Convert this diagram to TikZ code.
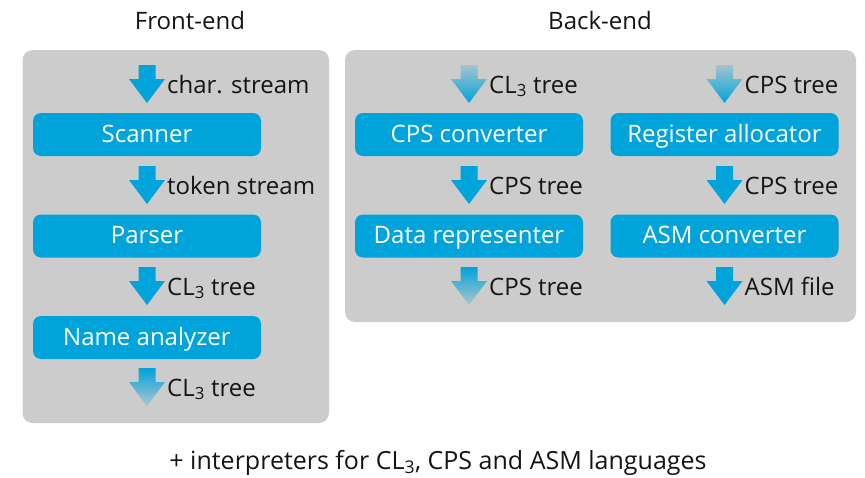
\documentclass[tikz,border=0pt]{standalone}
\usepackage{fontspec}
\setmainfont{Open Sans}
\usepackage{tikz}
\usetikzlibrary{positioning}
\definecolor{stageblue}{RGB}{0,163,218}
\definecolor{panelgray}{RGB}{204,204,204}
\definecolor{labelblack}{RGB}{20,20,20}
\tikzset{panel/.style={fill=panelgray, rounded corners=10pt}}
\tikzset{stage node/.style={fill=stageblue, text=white, rounded corners=8pt,
    minimum width=228pt, minimum height=43pt, inner sep=0pt, text height=18.5pt, text depth=3.5pt,
    font=\fontsize{24}{28}\selectfont}}
\tikzset{flow label/.style={anchor=west, text=labelblack, inner sep=0pt, text height=17pt, text depth=5pt,
    font=\fontsize{24}{28}\selectfont}}
\tikzset{title/.style={text=labelblack, inner sep=0pt, text height=17pt, text depth=5pt,
    font=\fontsize{24}{28}\selectfont}}
\tikzset{solid arrow/.style={top color=stageblue, bottom color=stageblue}}
\tikzset{fade in arrow/.style={top color=stageblue!20!panelgray, bottom color=stageblue}}
\tikzset{fade out arrow/.style={top color=stageblue, bottom color=stageblue!15!panelgray}}
\newcommand{\CLthree}{CL\textsubscript{3}}
% #1 x of centre, #2 top, #3 style, #4 name, #5 label
\newcommand{\flowarrow}[5]{
  \shade [#3] (#1-8.5,#2) -- (#1+8.5,#2) -- (#1+8.5,#2+14) -- (#1+18,#2+14)
    -- (#1,#2+38) -- (#1-18,#2+14) -- (#1-8.5,#2+14) -- cycle;
  \node [flow label] (#4) at (#1+20,#2+22) {#5};
}

\begin{document}
\begin{tikzpicture}[x=1pt, y=-1pt]
  \useasboundingbox (0,0) rectangle (865,477);

  \node [title] (front) at (190,23) {Front-end};
  \node [title] (back)  at (600,23) {Back-end};

  \fill [panel] (22.5,50) rectangle (329,423);
  \fill [panel] (345,50) rectangle (856,322);

  % front-end
  \node [stage node] (scanner)  at (147,134.5) {Scanner};
  \node [stage node] (parser)   at (147,236) {Parser};
  \node [stage node] (analyzer) at (147,337.5) {Name analyzer};

  \flowarrow{147}{65}{solid arrow}{charstream}{char. stream}
  \flowarrow{147}{166}{solid arrow}{tokenstream}{token stream}
  \flowarrow{147}{267}{solid arrow}{cltree}{\CLthree{} tree}
  \flowarrow{147}{368}{fade out arrow}{cltreeout}{\CLthree{} tree}

  % back-end
  \node [stage node] (cpsconv)  at (469,134.5) {CPS converter};
  \node [stage node] (datarep)  at (469,236) {Data representer};
  \node [stage node] (regalloc) at (724.5,134.5) {Register allocator};
  \node [stage node] (asmconv)  at (724.5,236) {ASM converter};

  \flowarrow{469}{65}{fade in arrow}{cltreein}{\CLthree{} tree}
  \flowarrow{469}{166}{solid arrow}{cpstree}{CPS tree}
  \flowarrow{469}{267}{fade out arrow}{cpstreeout}{CPS tree}
  \flowarrow{724.5}{65}{fade in arrow}{cpstreein}{CPS tree}
  \flowarrow{724.5}{166}{solid arrow}{cpstreeb}{CPS tree}
  \flowarrow{724.5}{267}{solid arrow}{asmfile}{ASM file}

  \node [title, font=\fontsize{25}{29}\selectfont] (interp) at (438,463)
    {+ interpreters for \CLthree, CPS and ASM languages};
\end{tikzpicture}
\end{document}
